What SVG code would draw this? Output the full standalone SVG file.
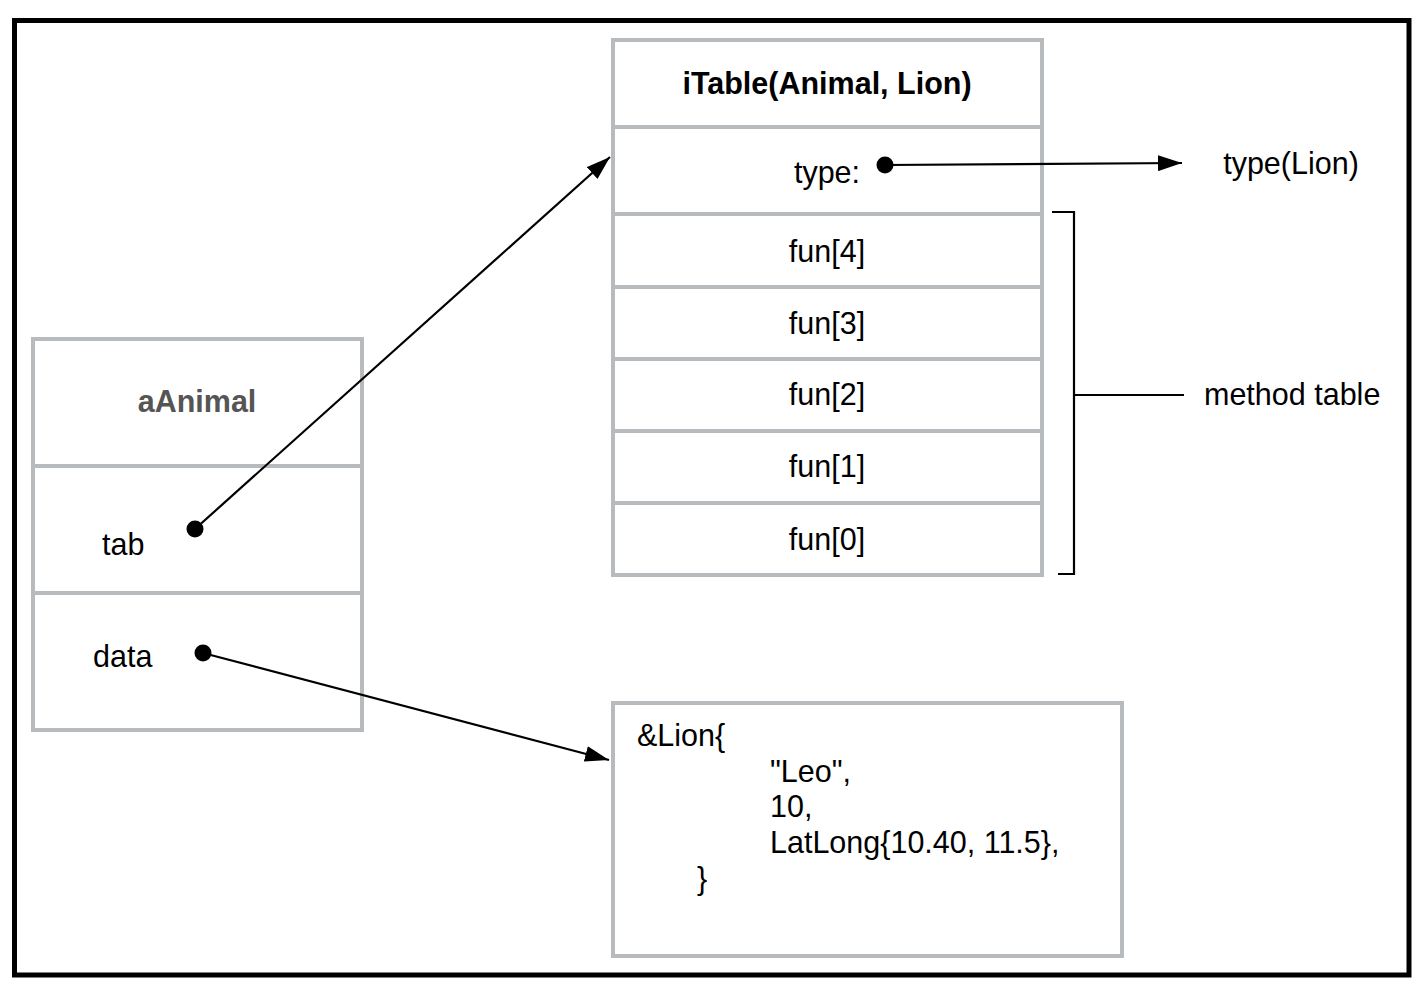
<svg xmlns="http://www.w3.org/2000/svg" width="1424" height="998" viewBox="0 0 1424 998">
<style>
.box{fill:#fff;stroke:#b7bbbd;stroke-width:4}
.div{stroke:#b7bbbd;stroke-width:4}
.t{font-family:"Liberation Sans",Arial,sans-serif;font-size:30.5px;fill:#000}
.c{text-anchor:middle}
.b{font-weight:bold}
.conn{stroke:#000;stroke-width:2.2;fill:none}
.dot{fill:#000}
</style>
<defs>
<marker id="ah" viewBox="0 0 24 16" refX="24" refY="8" markerWidth="24" markerHeight="16" markerUnits="userSpaceOnUse" orient="auto">
<path d="M0,0 L24,8 L0,16 z" fill="#000"/>
</marker>
</defs>
<rect x="14.5" y="20.5" width="1394.5" height="954.5" fill="#fff" stroke="#000" stroke-width="5"/>
<g id="itable">
<rect class="box" x="613" y="40" width="429" height="535"/>
<line class="div" x1="613" y1="127" x2="1042" y2="127"/>
<line class="div" x1="613" y1="214" x2="1042" y2="214"/>
<line class="div" x1="613" y1="287" x2="1042" y2="287"/>
<line class="div" x1="613" y1="359" x2="1042" y2="359"/>
<line class="div" x1="613" y1="431" x2="1042" y2="431"/>
<line class="div" x1="613" y1="503" x2="1042" y2="503"/>
<text class="t c b" x="827" y="94">iTable(Animal, Lion)</text>
<text class="t c" x="827" y="183">type:</text>
<text class="t c" x="827" y="262">fun[4]</text>
<text class="t c" x="827" y="334">fun[3]</text>
<text class="t c" x="827" y="405">fun[2]</text>
<text class="t c" x="827" y="477">fun[1]</text>
<text class="t c" x="827" y="550">fun[0]</text>
</g>
<g id="aanimal">
<rect class="box" x="33" y="339" width="329" height="391"/>
<line class="div" x1="33" y1="466" x2="362" y2="466"/>
<line class="div" x1="33" y1="593" x2="362" y2="593"/>
<text class="t c b" x="197" y="412" style="fill:#555">aAnimal</text>
<text class="t" x="102" y="555">tab</text>
<text class="t" x="93" y="667">data</text>
</g>
<g id="lion">
<rect class="box" x="613" y="703" width="509" height="253"/>
<text class="t" x="637" y="746">&amp;Lion{</text>
<text class="t" x="770" y="782">"Leo",</text>
<text class="t" x="770" y="817">10,</text>
<text class="t" x="770" y="853">LatLong{10.40, 11.5},</text>
<text class="t" x="697" y="889">}</text>
</g>
<g id="typelion">
<text class="t c" x="1291" y="174">type(Lion)</text>
</g>
<g id="methodtable">
<path class="conn" d="M1052,212 H1074 V574 H1058"/>
<line class="conn" x1="1075" y1="395" x2="1184" y2="395"/>
<text class="t" x="1204" y="405">method table</text>
</g>
<g id="connectors">
<line class="conn" x1="195" y1="529" x2="610" y2="157" marker-end="url(#ah)"/>
<line class="conn" x1="203" y1="653" x2="609" y2="760" marker-end="url(#ah)"/>
<line class="conn" x1="885" y1="165" x2="1182" y2="163" marker-end="url(#ah)"/>
<circle class="dot" cx="195" cy="529" r="8.5"/>
<circle class="dot" cx="203" cy="653" r="8.5"/>
<circle class="dot" cx="885" cy="165" r="8.5"/>
</g>
</svg>
